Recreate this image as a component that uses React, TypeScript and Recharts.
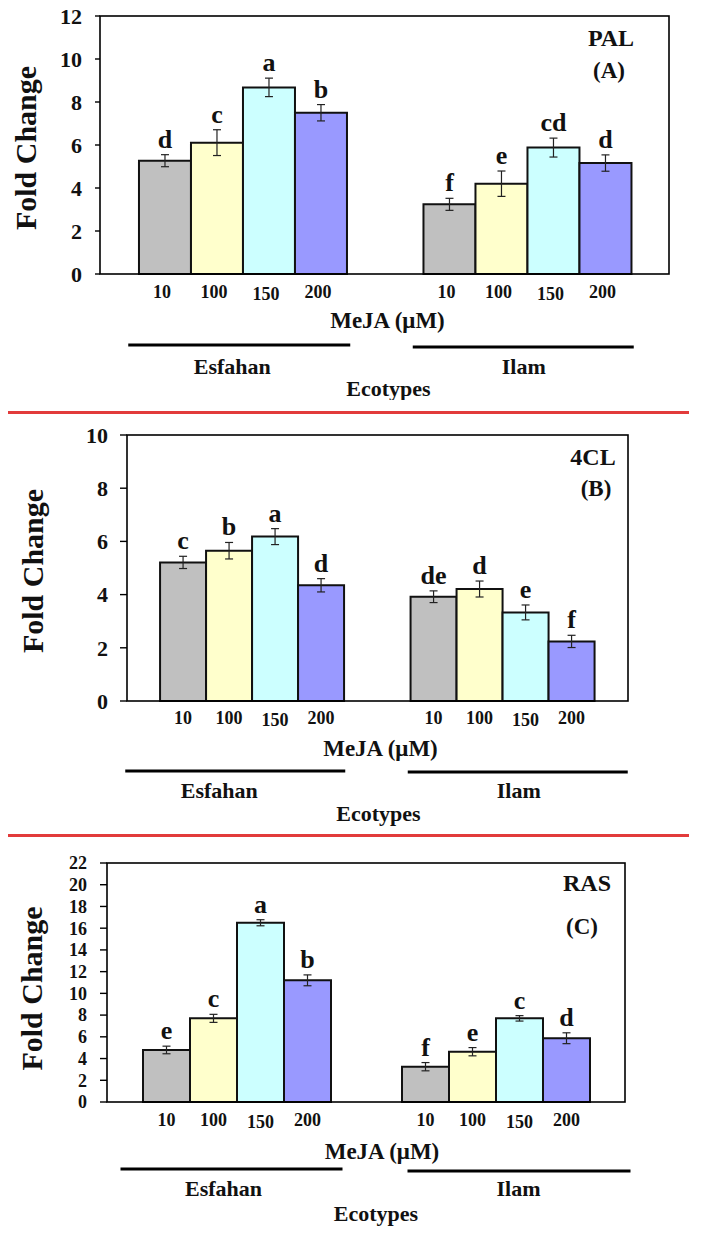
import React from 'react'
import { BarChart, Bar, XAxis, YAxis, ErrorBar, LabelList, Label } from 'recharts'

const ecotypes = ['Esfahan', 'Ilam']
const doses = ['10', '100', '150', '200']
const barColors = ['#c0c0c0', '#ffffcc', '#ccffff', '#9999ff']

// PAL (A)
const palEsfahan = [5.27, 6.11, 8.68, 7.5]
const palIlam = [3.24, 4.2, 5.88, 5.16]
const palEsfahanErr = [0.28, 0.6, 0.43, 0.38]
const palIlamErr = [0.28, 0.59, 0.44, 0.38]
const palEsfahanSig = ['d', 'c', 'a', 'b']
const palIlamSig = ['f', 'e', 'cd', 'd']
const palTicks = [0, 2, 4, 6, 8, 10, 12]

// 4CL (B)
const clEsfahan = [5.21, 5.65, 6.18, 4.35]
const clIlam = [3.92, 4.21, 3.33, 2.24]
const clEsfahanErr = [0.23, 0.31, 0.3, 0.25]
const clIlamErr = [0.22, 0.3, 0.28, 0.23]
const clEsfahanSig = ['c', 'b', 'a', 'd']
const clIlamSig = ['de', 'd', 'e', 'f']
const clTicks = [0, 2, 4, 6, 8, 10]

// RAS (C)
const rasEsfahan = [4.79, 7.7, 16.5, 11.2]
const rasIlam = [3.25, 4.63, 7.7, 5.87]
const rasEsfahanErr = [0.35, 0.37, 0.28, 0.5]
const rasIlamErr = [0.38, 0.38, 0.25, 0.5]
const rasEsfahanSig = ['e', 'c', 'a', 'b']
const rasIlamSig = ['f', 'e', 'c', 'd']
const rasTicks = [0, 2, 4, 6, 8, 10, 12, 14, 16, 18, 20, 22]

const FONT = "'Liberation Serif', 'Times New Roman', serif"
const INK = '#111'

function makeRows(vals: number[][], errs: number[][], sigs: string[][]) {
  return ecotypes.map((eco, i) => {
    const row: any = { eco }
    doses.forEach((_, j) => {
      row['v' + j] = vals[i][j]
      row['e' + j] = errs[i][j]
      row['s' + j] = sigs[i][j]
    })
    return row
  })
}

const palRows = makeRows([palEsfahan, palIlam], [palEsfahanErr, palIlamErr], [palEsfahanSig, palIlamSig])
const clRows = makeRows([clEsfahan, clIlam], [clEsfahanErr, clIlamErr], [clEsfahanSig, clIlamSig])
const rasRows = makeRows([rasEsfahan, rasIlam], [rasEsfahanErr, rasIlamErr], [rasEsfahanSig, rasIlamSig])

type Cfg = {
  rows: any[]
  ticks: number[]
  gene: string
  tag: string
  top: number
  height: number
  plotTop: number
  plotBottom: number
  plotLeft: number
  plotRight: number
  gap: string
  tickSize: number
  tickMargin: number
  tickFont: number
  titleX: number
  titleDy: number
  concY: number
  concDx: number
  mejaY: number
  mejaDx: number
  ecoY: number
  ecoDx: number
  lineL: number[]
  lineR: number[]
  lineY: number[]
  nameY: number
  nameDx: number[]
  geneDx: number
  geneY: number
  tagDx: number
  tagY: number
}

const txt = { fontFamily: FONT, fontWeight: 'bold' as const, fill: INK }

function Panel({ c }: { c: Cfg }) {
  const W = 704
  const xh = c.height - c.plotBottom
  const midX = (c.plotLeft + c.plotRight) / 2

  const EcoTick = (p: any) => {
    const { x, y, index } = p
    return (
      <g>
        <line x1={x + c.lineL[index]} x2={x + c.lineR[index]} y1={y + c.lineY[index]} y2={y + c.lineY[index]} stroke="#000" strokeWidth={3} />
        <text x={x + c.nameDx[index]} y={y + c.nameY} textAnchor="middle" dominantBaseline="central" fontSize={22} {...txt}>
          {ecotypes[index]}
        </text>
      </g>
    )
  }

  return (
    <div style={{ position: 'absolute', left: 0, top: c.top }}>
      <BarChart
        width={W}
        height={c.height}
        data={c.rows}
        margin={{ top: c.plotTop, right: W - c.plotRight, left: 0, bottom: 0 }}
        barGap={0}
        barCategoryGap={c.gap}
      >
        <XAxis
          dataKey="eco"
          axisLine={false}
          tickLine={false}
          tickSize={0}
          tickMargin={0}
          height={xh}
          interval={0}
          tick={<EcoTick />}
        >
          <Label
            content={(p: any) => {
              const vb = p.viewBox
              return (
                <g>
                  <rect x={vb.x} y={c.plotTop} width={vb.width} height={vb.y - c.plotTop} fill="none" stroke="#000" strokeWidth={1.6} />
                  <text x={vb.x + vb.width / 2 + c.mejaDx} y={vb.y + c.mejaY} textAnchor="middle" dominantBaseline="central" fontSize={23} {...txt}>
                    MeJA (μM)
                  </text>
                  <text x={vb.x + vb.width / 2 + c.ecoDx} y={vb.y + c.ecoY} textAnchor="middle" dominantBaseline="central" fontSize={22} {...txt}>
                    Ecotypes
                  </text>
                  <text x={vb.x + vb.width + c.geneDx} y={c.plotTop + c.geneY} textAnchor="middle" dominantBaseline="central" fontSize={24} {...txt}>
                    {c.gene}
                  </text>
                  <text x={vb.x + vb.width + c.tagDx} y={c.plotTop + c.tagY} textAnchor="middle" dominantBaseline="central" fontSize={23} {...txt}>
                    {c.tag}
                  </text>
                </g>
              )
            }}
          />
        </XAxis>
        <YAxis
          width={c.plotLeft}
          domain={[0, c.ticks[c.ticks.length - 1]]}
          ticks={c.ticks}
          interval={0}
          axisLine={false}
          tickLine={{ stroke: '#000', strokeWidth: 1.4 }}
          tickSize={c.tickSize}
          tickMargin={c.tickMargin}
          tick={{ fontSize: c.tickFont, fontFamily: FONT, fontWeight: 'bold', fill: INK }}
        >
          <Label
            content={(p: any) => {
              const vb = p.viewBox
              const cy = vb.y + vb.height / 2 + c.titleDy
              return (
                <text x={c.titleX} y={cy} transform={`rotate(-90 ${c.titleX} ${cy})`} textAnchor="middle" dominantBaseline="central" fontSize={30} {...txt}>
                  Fold Change
                </text>
              )
            }}
          />
        </YAxis>
        {doses.map((d, j) => (
          <Bar key={d} dataKey={'v' + j} fill={barColors[j]} stroke="#111" strokeWidth={2} isAnimationActive={false}>
            <ErrorBar dataKey={'e' + j} width={4} stroke="#222" strokeWidth={1.2} direction="y" />
            <LabelList
              dataKey={'s' + j}
              content={(p: any) => {
                const vb = p.viewBox ?? p
                const x = vb.x ?? p.x
                const y = vb.y ?? p.y
                const w = vb.width ?? p.width
                const h = vb.height ?? p.height
                const idx = typeof p.index === 'number' ? p.index : x < midX ? 0 : 1
                const row = c.rows[idx]
                const errPx = (row['e' + j] * h) / row['v' + j]
                return (
                  <g>
                    <text x={x + w / 2} y={y - errPx - 7} textAnchor="middle" fontSize={26} {...txt}>
                      {row['s' + j]}
                    </text>
                    <text x={x + w / 2 + c.concDx} y={y + h + c.concY + (j === 2 ? 2 : 0)} textAnchor="middle" dominantBaseline="central" fontSize={18} {...txt}>
                      {d}
                    </text>
                  </g>
                )
              }}
            />
          </Bar>
        ))}
      </BarChart>
    </div>
  )
}

const panels: Cfg[] = [
  {
    rows: palRows, ticks: palTicks, gene: 'PAL', tag: '(A)',
    top: 0, height: 400, plotTop: 16, plotBottom: 274, plotLeft: 100, plotRight: 669, gap: '13.7%',
    tickSize: 5, tickMargin: 13, tickFont: 22, titleX: 25, titleDy: 3,
    concY: 18, concDx: -3, mejaY: 46, mejaDx: 3, ecoY: 114, ecoDx: 4,
    lineL: [-114, -114], lineR: [108, 107], lineY: [71, 73], nameY: 92, nameDx: [-10, -3],
    geneDx: -58, geneY: 22, tagDx: -60, tagY: 54,
  },
  {
    rows: clRows, ticks: clTicks, gene: '4CL', tag: '(B)',
    top: 420, height: 410, plotTop: 15, plotBottom: 281, plotLeft: 127, plotRight: 628, gap: '13.2%',
    tickSize: 7, tickMargin: 12, tickFont: 22, titleX: 32, titleDy: 3,
    concY: 17, concDx: 0, mejaY: 47, mejaDx: 3, ecoY: 112, ecoDx: 1,
    lineL: [-127, -95], lineR: [93, 125], lineY: [70, 71], nameY: 89, nameDx: [-33, 16],
    geneDx: -35, geneY: 22, tagDx: -32, tagY: 53,
  },
  {
    rows: rasRows, ticks: rasTicks, gene: 'RAS', tag: '(C)',
    top: 840, height: 395, plotTop: 23, plotBottom: 262, plotLeft: 107, plotRight: 625, gap: '13.9%',
    tickSize: 7, tickMargin: 13, tickFont: 18, titleX: 31, titleDy: 6,
    concY: 18, concDx: 0, mejaY: 49, mejaDx: 16, ecoY: 111, ecoDx: 10,
    lineL: [-116, -88], lineR: [106, 135], lineY: [67, 69], nameY: 86, nameDx: [-13, 23],
    geneDx: -38, geneY: 20, tagDx: -43, tagY: 63,
  },
]

export default function App() {
  return (
    <div style={{ position: 'absolute', left: 0, top: 0, width: 704, height: 1235, background: '#fff', overflow: 'hidden' }}>
      {panels.map((c) => (
        <Panel key={c.gene} c={c} />
      ))}
      <div style={{ position: 'absolute', left: 8, top: 411, width: 681, height: 3, background: '#e23b3b' }} />
      <div style={{ position: 'absolute', left: 8, top: 834, width: 681, height: 3, background: '#e23b3b' }} />
    </div>
  )
}
